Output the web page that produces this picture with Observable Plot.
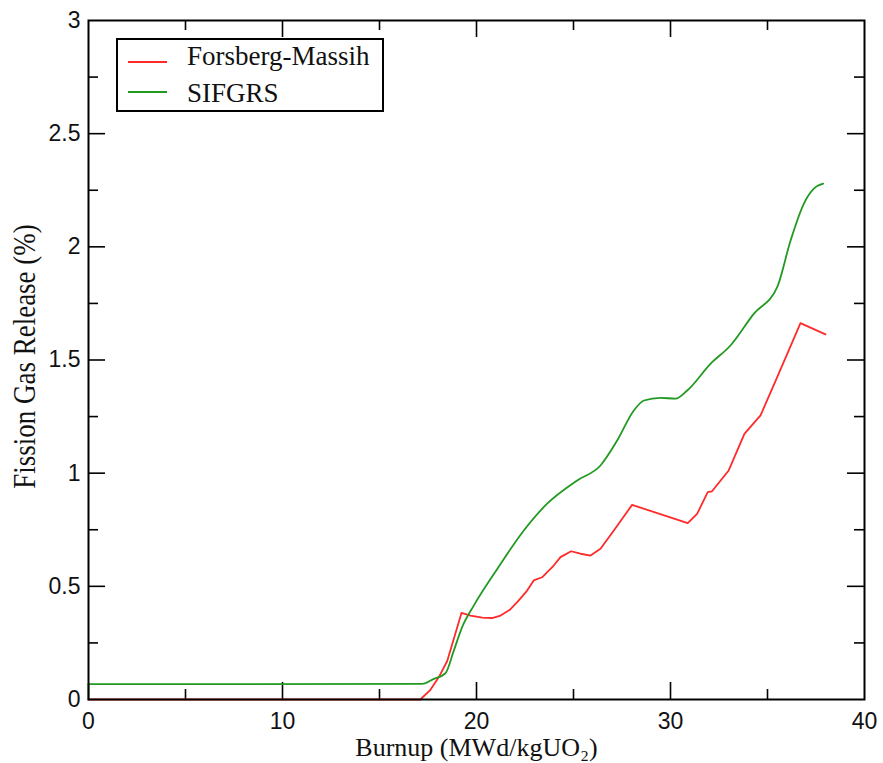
<!DOCTYPE html>
<html><head><meta charset="utf-8">
<script src="https://cdn.jsdelivr.net/npm/d3@7"></script>
<script src="https://cdn.jsdelivr.net/npm/@observablehq/plot@0.6"></script>
<style>body{margin:0;background:#fff}</style>
</head><body><div id="chart"></div>
<script>
// Forsberg-Massih series
const fmBurnup = [0, 17.1, 17.6, 18.06, 18.49, 19.23, 19.69, 20.3, 20.8, 21.24, 21.7, 22.1, 22.6, 22.95, 23.38, 23.98, 24.33, 24.88, 25.36, 25.88, 26.39, 27.08, 28.02, 30.89, 31.37, 31.92, 32.14, 33.0, 33.81, 34.64, 35.5, 36.7, 37.99];
const fmFgr    = [0, 0, 0.04, 0.099, 0.17, 0.383, 0.371, 0.362, 0.36, 0.371, 0.395, 0.43, 0.48, 0.526, 0.54, 0.592, 0.629, 0.655, 0.644, 0.636, 0.666, 0.747, 0.86, 0.779, 0.82, 0.916, 0.92, 1.012, 1.174, 1.255, 1.424, 1.663, 1.613];
// SIFGRS series
const sfBurnup = [0, 0, 17.2, 17.8, 18.4, 18.83, 19.26, 19.86, 21.07, 22.44, 23.64, 25.19, 26.39, 27.25, 28.11, 28.63, 29.48, 30.26, 30.86, 32.06, 33.09, 34.29, 35.5, 36.19, 36.87, 37.39, 37.87];
const sfFgr    = [0, 0.068, 0.069, 0.091, 0.116, 0.216, 0.32, 0.415, 0.577, 0.747, 0.865, 0.968, 1.034, 1.144, 1.277, 1.321, 1.333, 1.329, 1.365, 1.483, 1.564, 1.704, 1.822, 2.028, 2.19, 2.257, 2.279];

const seriesNames = ["Forsberg-Massih", "SIFGRS"];
const seriesColors = ["#ff2a2a", "#229a22"];
const xTicks = [0, 10, 20, 30, 40];
const xMinor = [5, 15, 25, 35];
const yTicks = [0, 0.5, 1, 1.5, 2, 2.5, 3];
const yMinor = [0.25, 0.75, 1.25, 1.75, 2.25, 2.75];
const xTitle = "Burnup (MWd/kgUO₂)";
const yTitle = "Fission Gas Release (%)";

const fm = fmBurnup.map((b, i) => ({b, f: fmFgr[i]}));
const sf = sfBurnup.map((b, i) => ({b, f: sfFgr[i]}));

const W = 883, H = 763, mL = 88, mR = 19, mT = 20, mB = 64;
const ph = H - mT - mB, pw = W - mL - mR;
const MAJ = 17, MIN = 10;
const tickStyle = {stroke: "#000", strokeWidth: 1.6};
const tickFont = {fontSize: 23, fontFamily: "Liberation Sans, Arial, sans-serif", fill: "#111"};

const chart = Plot.plot({
  width: W, height: H,
  marginLeft: mL, marginRight: mR, marginTop: mT, marginBottom: mB,
  x: {domain: [0, 40]},
  y: {domain: [0, 3]},
  style: {background: "#fff", overflow: "visible"},
  marks: [
    Plot.axisX(xTicks, {tickSize: 0, tickPadding: 13, label: null, tickFormat: d => String(d), ...tickFont}),
    Plot.axisY(yTicks, {tickSize: 0, tickPadding: 8, label: null, tickFormat: d => String(d), ...tickFont}),
    // inward ticks: bottom / top
    Plot.ruleX(xTicks.slice(1, -1), {insetTop: ph - MAJ, ...tickStyle}),
    Plot.ruleX(xMinor, {insetTop: ph - MIN, ...tickStyle}),
    Plot.ruleX(xTicks.slice(1, -1), {insetBottom: ph - MAJ, ...tickStyle}),
    Plot.ruleX(xMinor, {insetBottom: ph - MIN, ...tickStyle}),
    // inward ticks: left / right
    Plot.ruleY(yTicks.slice(1, -1), {insetRight: pw - MAJ, ...tickStyle}),
    Plot.ruleY(yMinor, {insetRight: pw - MIN, ...tickStyle}),
    Plot.ruleY(yTicks.slice(1, -1), {insetLeft: pw - MAJ, ...tickStyle}),
    Plot.ruleY(yMinor, {insetLeft: pw - MIN, ...tickStyle}),
    Plot.line(fm, {x: "b", y: "f", stroke: seriesColors[0], strokeWidth: 1.8}),
    Plot.line(sf.slice(0, 2), {x: "b", y: "f", stroke: seriesColors[1], strokeWidth: 1.8}),
    Plot.line(sf.slice(1), {x: "b", y: "f", stroke: seriesColors[1], strokeWidth: 1.8, curve: "monotone-x"}),
    Plot.frame({stroke: "#000", strokeWidth: 2}),
    Plot.text([xTitle], {frameAnchor: "bottom", dy: 56, lineAnchor: "bottom", textAnchor: "middle",
      fontSize: 26, fontFamily: "Liberation Serif, Times New Roman, serif", fill: "#111"})
  ]
});

const svg = d3.select(chart);
// y title
svg.append("text")
  .attr("transform", `translate(35,${mT + ph / 2 - 3}) rotate(-90) scale(1,1.15)`)
  .attr("text-anchor", "middle")
  .attr("font-family", "Liberation Serif, Times New Roman, serif")
  .attr("font-size", 27)
  .attr("fill", "#111")
  .text(yTitle);

// legend
const lg = svg.append("g");
lg.append("rect").attr("x", 117).attr("y", 39).attr("width", 266).attr("height", 72)
  .attr("fill", "#fff").attr("stroke", "#000").attr("stroke-width", 2);
const rowsLine = [62, 92], rowsText = [65, 102];
seriesNames.forEach((name, i) => {
  lg.append("line").attr("x1", 128).attr("x2", 167).attr("y1", rowsLine[i]).attr("y2", rowsLine[i])
    .attr("stroke", seriesColors[i]).attr("stroke-width", 1.8);
  lg.append("text").attr("x", 187).attr("y", rowsText[i])
    .attr("text-anchor", "start")
    .attr("font-family", "Liberation Serif, Times New Roman, serif").attr("font-size", 27)
    .attr("fill", "#111").text(name);
});

document.getElementById("chart").appendChild(chart);
</script>
</body></html>
